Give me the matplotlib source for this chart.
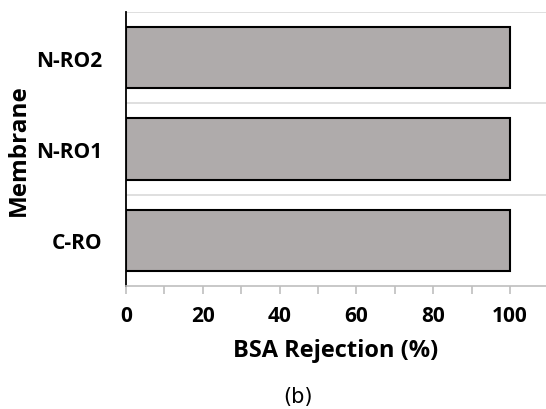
import matplotlib
matplotlib.use("Agg")
import matplotlib.pyplot as plt
from matplotlib.ticker import MultipleLocator

categories = ["C-RO", "N-RO1", "N-RO2"]
rejection = [100, 100, 100]
xticks = [0, 20, 40, 60, 80, 100]

plt.rcParams['font.family'] = ['Open Sans', 'DejaVu Sans']

fig = plt.figure(figsize=(5.46, 4.10), dpi=100)
ax = fig.add_axes([126/546, 1-287/410, 420/546, 274/410])

ypos = range(len(categories))
ax.barh(ypos, rejection, height=0.67, color="#AFABAB", edgecolor="black", linewidth=1.5, zorder=3)
ax.set_ylim(-0.5, len(categories)-0.5)
ax.set_xlim(0, 109.4)
ax.set_yticks(list(ypos))
ax.set_yticklabels(categories, fontweight="bold", fontsize=15)
ax.set_xticks(xticks)
ax.set_xticklabels([str(v) for v in xticks], fontweight="bold", fontsize=15)
ax.xaxis.set_minor_locator(MultipleLocator(10))

# category separators
for b in [0.5, 1.5, 2.5]:
    ax.axhline(b, color="#D9D9D9", linewidth=1.2, zorder=1)

for s in ["top", "right"]:
    ax.spines[s].set_visible(False)
ax.spines["left"].set_color("black")
ax.spines["left"].set_linewidth(1.3)
ax.spines["bottom"].set_color("#BFBFBF")
ax.spines["bottom"].set_linewidth(1.2)
ax.tick_params(axis="y", length=0, pad=17)
ax.tick_params(axis="x", which="both", direction="out", length=6, color="#BFBFBF", width=1.2, pad=8)

ax.set_xlabel("BSA Rejection (%)", fontweight="bold", fontsize=17, labelpad=8)
ax.set_ylabel("Membrane", fontweight="bold", fontsize=17.5, labelpad=4)

fig.text(298/546, 1-397/410, "(b)", ha="center", va="center", fontsize=15, family=["DejaVu Sans"])

fig.savefig("out.png", dpi=100)
